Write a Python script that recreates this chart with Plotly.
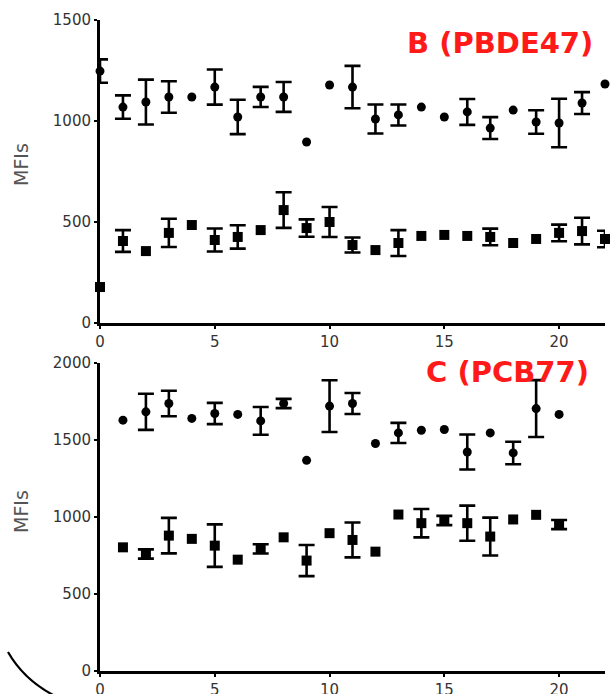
import plotly.graph_objects as go

# ---- data ----
x_b = list(range(0, 23))
b_high = [1247, 1069, 1094, 1119, 1119, 1168, 1020, 1119, 1119, 896, 1178, 1168,
          1010, 1030, 1069, 1020, 1045, 965, 1054, 995, 990, 1089, 1183]
b_high_err = [58, 58, 111, 78, 0, 87, 85, 50, 74, 0, 0, 105,
              72, 52, 0, 0, 64, 54, 0, 58, 120, 54, 0]
b_low = [178, 406, 356, 446, 485, 411, 426, 460, 559, 470, 500, 386,
         361, 396, 431, 436, 431, 426, 396, 416, 446, 455, 416]
b_low_err = [0, 54, 0, 70, 0, 57, 58, 0, 88, 43, 74, 37,
             0, 64, 0, 0, 0, 41, 0, 0, 41, 66, 41]

x_c = list(range(1, 21))
c_high = [1629, 1683, 1737, 1640, 1672, 1666, 1624, 1737, 1368, 1720,
          1737, 1477, 1546, 1563, 1568, 1422, 1546, 1416, 1704, 1666]
c_high_err = [0, 117, 83, 0, 69, 0, 90, 30, 0, 168,
              68, 0, 65, 0, 0, 114, 0, 73, 185, 0]
c_low = [803, 760, 879, 858, 814, 723, 793, 868, 717, 895,
         851, 775, 1016, 960, 977, 960, 873, 984, 1014, 951]
c_low_err = [0, 30, 115, 0, 138, 0, 30, 0, 101, 0,
             113, 0, 0, 92, 30, 114, 123, 0, 0, 30]

x_ticks = [0, 5, 10, 15, 20]
b_yticks = [0, 500, 1000, 1500]
c_yticks = [0, 500, 1000, 1500, 2000]
titles = ["B (PBDE47)", "C (PCB77)"]
y_label = "MFIs"

W, H = 611, 694
ML, MR, MT, MB = 100, 6, 20, 23
PW, PH = W - ML - MR, H - MT - MB

def px(xp):
    return (xp - ML) / PW

def py(yp):
    return (H - MB - yp) / PH

fig = go.Figure()

def add_series(x, y, err, symbol, size, xa, ya):
    ex = [xi for xi, e in zip(x, err) if e > 0]
    ey = [yi for yi, e in zip(y, err) if e > 0]
    ee = [e for e in err if e > 0]
    fig.add_trace(go.Scatter(
        x=ex, y=ey, mode="markers", xaxis=xa, yaxis=ya,
        marker=dict(size=1, color="rgba(0,0,0,0)"),
        error_y=dict(type="data", array=ee, visible=True, color="black",
                     thickness=2.6, width=8),
        cliponaxis=False, showlegend=False, hoverinfo="skip"))
    fig.add_trace(go.Scatter(
        x=x, y=y, mode="markers", xaxis=xa, yaxis=ya,
        marker=dict(symbol=symbol, size=size, color="black"),
        cliponaxis=False, showlegend=False))

add_series(x_b, b_high, b_high_err, "circle", 9, "x", "y")
add_series(x_b, b_low, b_low_err, "square", 10, "x", "y")
add_series(x_c, c_high, c_high_err, "circle", 9, "x2", "y2")
add_series(x_c, c_low, c_low_err, "square", 10, "x2", "y2")

tickfont = dict(family="DejaVu Sans", size=15, color="#333333")
axis_common = dict(showgrid=False, zeroline=False, showline=True, linecolor="black",
                   linewidth=3, ticks="outside", ticklen=3, tickwidth=2,
                   tickcolor="black", tickfont=tickfont, automargin=False)

top_dom = [py(323), 1.0]
bot_dom = [0.0, py(363)]

lab_font = dict(family="DejaVu Sans", size=19, color="#555555")
title_font = dict(family="DejaVu Sans", size=29, color="#ff1a1a")

def ann(text, xp, yp, font, angle=0):
    return dict(text=text, xref="paper", yref="paper", x=px(xp), y=py(yp),
                xanchor="center", yanchor="middle", textangle=angle,
                showarrow=False, font=font)

fig.update_layout(
    width=W, height=H, margin=dict(l=ML, r=MR, t=MT, b=MB),
    paper_bgcolor="white", plot_bgcolor="white",
    xaxis=dict(domain=[0, 1], anchor="y", range=[0, 22], tickvals=x_ticks, **axis_common),
    yaxis=dict(domain=top_dom, anchor="x", range=[0, 1500], tickvals=b_yticks, **axis_common),
    xaxis2=dict(domain=[0, 1], anchor="y2", range=[0, 22], tickvals=x_ticks, **axis_common),
    yaxis2=dict(domain=bot_dom, anchor="x2", range=[0, 2000], tickvals=c_yticks, **axis_common),
    annotations=[
        ann("<b>%s</b>" % titles[0], 500, 43, title_font),
        ann("<b>%s</b>" % titles[1], 507, 372, title_font),
        ann(y_label, 21, 165, lab_font, -90),
        ann(y_label, 21, 512, lab_font, -90),
    ],
    shapes=[
        dict(type="path", xref="paper", yref="paper",
             path="M %f,%f Q %f,%f %f,%f" % (px(8), py(652), px(24), py(680), px(55), py(696)),
             line=dict(color="black", width=2.2)),
    ],
)

fig.write_html("out.html", post_script="document.body.style.margin='0';",
               config={"displayModeBar": False})
